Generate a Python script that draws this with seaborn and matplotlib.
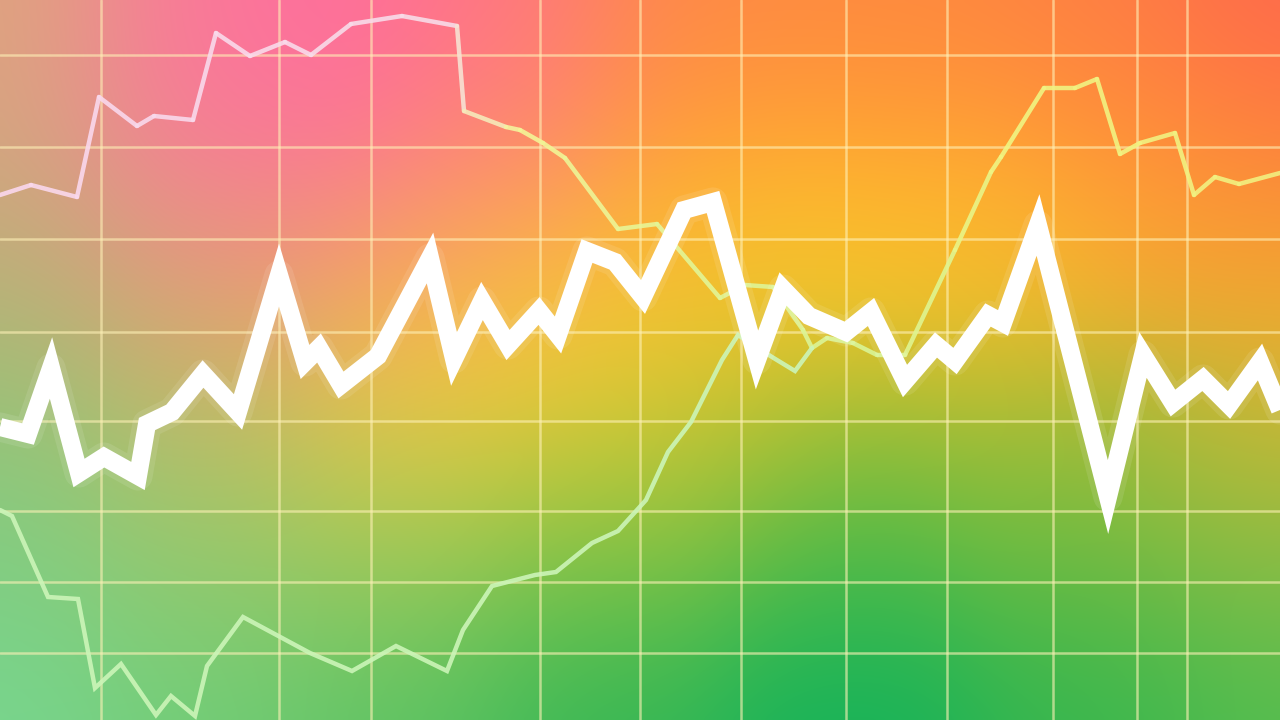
import numpy as np
import matplotlib
matplotlib.use("Agg")
import matplotlib.pyplot as plt
from matplotlib.collections import LineCollection
import seaborn as sns

sns.set_theme(style="white")

# thick white series (x position, value; value measured upward from the bottom)
main_x = [0, 28, 51, 79, 104, 138, 147, 172, 203, 238, 279, 305, 319, 341, 378, 430, 454, 482,
          508, 539, 558, 587, 615, 643, 684, 713, 757, 783, 809, 846, 871, 905, 936, 955, 988,
          1003, 1038, 1108, 1143, 1173, 1203, 1229, 1260, 1280]
main_y = [293, 286, 352, 247, 263, 244, 296, 308, 346, 308, 445, 358, 372, 335, 364, 462, 361, 419,
          375, 409, 385, 469, 458, 423, 510, 518, 360, 431, 404, 388, 408, 339, 375, 359, 405,
          397, 495, 223, 365, 317, 341, 315, 358, 310]

# upper thin series (pink on the left, yellow on the right)
upper_x = [0, 31, 77, 99, 137, 154, 193, 216, 250, 285, 311, 351, 402, 457, 464, 506, 520, 543,
           565, 618, 657, 720, 745, 773, 803, 812, 827, 853, 877, 905, 955, 991, 1001, 1044,
           1075, 1097, 1120, 1140, 1175, 1194, 1215, 1239, 1280]
upper_y = [525, 535, 523, 623, 594, 604, 600, 687, 664, 678, 665, 696, 704, 694, 609, 593, 590, 577,
           562, 491, 496, 422, 435, 433, 390, 372, 382, 377, 365, 365, 470, 548, 563, 632,
           632, 641, 566, 577, 587, 525, 543, 536, 547]

# lower thin series (pale green)
lower_x = [0, 12, 48, 78, 95, 121, 156, 171, 195, 207, 243, 310, 352, 396, 447, 463, 492, 535,
           556, 592, 618, 646, 668, 691, 722, 738, 772, 795, 812]
lower_y = [210, 204, 123, 121, 32, 56, 5, 24, 4, 54, 103, 67, 49, 74, 49, 90, 134, 145,
           148, 177, 189, 220, 268, 298, 360, 385, 363, 349, 372]

# grid positions
grid_x = [101, 279, 371, 540, 640, 741, 846, 947, 1053, 1137, 1187]
grid_y = [665, 573, 481, 388, 299, 209, 138, 67]

W, H = 1280, 720

# background colour samples: (x, y from top, rgb)
blobs = [
    (0, 0, (225, 165, 125)), (200, 0, (250, 125, 150)), (330, 0, (255, 105, 160)),
    (500, 0, (255, 118, 130)), (700, 0, (255, 135, 72)), (900, 0, (255, 135, 65)),
    (1100, 0, (255, 125, 70)), (1280, 0, (255, 98, 82)),
    (0, 100, (215, 165, 130)), (200, 100, (250, 118, 155)), (330, 90, (255, 108, 162)),
    (500, 100, (255, 125, 120)), (700, 100, (255, 145, 60)), (900, 100, (255, 142, 58)),
    (1100, 100, (255, 135, 60)), (1280, 100, (255, 118, 65)),
    (0, 220, (200, 170, 125)), (200, 220, (235, 145, 135)), (350, 220, (245, 138, 128)),
    (500, 220, (250, 160, 95)), (700, 220, (255, 190, 45)), (850, 220, (255, 202, 38)),
    (1000, 220, (255, 192, 45)), (1150, 220, (255, 165, 50)), (1280, 220, (250, 148, 52)),
    (0, 330, (172, 185, 115)), (200, 330, (215, 170, 110)), (400, 330, (247, 192, 70)),
    (550, 330, (254, 207, 45)), (750, 330, (238, 198, 45)), (1000, 330, (245, 190, 40)),
    (1280, 330, (240, 180, 45)),
    (0, 450, (140, 200, 125)), (200, 450, (180, 195, 100)), (400, 450, (218, 204, 70)),
    (600, 450, (200, 200, 55)), (800, 450, (150, 190, 55)), (1000, 450, (130, 190, 60)),
    (1150, 450, (165, 188, 58)), (1280, 450, (195, 185, 55)),
    (0, 570, (125, 207, 132)), (200, 570, (140, 202, 112)), (400, 570, (140, 200, 95)),
    (600, 570, (105, 193, 75)), (850, 570, (55, 185, 78)), (1100, 570, (88, 186, 70)),
    (1280, 570, (120, 190, 75)),
    (0, 720, (120, 215, 145)), (200, 720, (110, 205, 120)), (400, 720, (88, 195, 100)),
    (600, 720, (48, 182, 86)), (850, 720, (18, 178, 92)), (1100, 720, (50, 182, 80)),
    (1280, 720, (82, 190, 80)),
]

gx, gy = np.meshgrid(np.linspace(0, W, 320), np.linspace(0, H, 180))
num = np.zeros(gx.shape + (3,))
den = np.zeros(gx.shape)
for bx, by, c in blobs:
    w = np.exp(-((gx - bx) ** 2 + (gy - by) ** 2) / (2 * 95.0 ** 2))
    num += w[..., None] * np.array(c, dtype=float)
    den += w
bg = np.clip(num / den[..., None] / 255.0, 0, 1)

fig = plt.figure(figsize=(12.8, 7.2), dpi=100)
ax = fig.add_axes([0, 0, 1, 1])
ax.imshow(bg, extent=[0, W, 0, H], aspect="auto", interpolation="bicubic", zorder=0)

for gxp in grid_x:
    ax.axvline(gxp, color=(1.0, 0.95, 0.72), alpha=0.6, lw=1.8, zorder=1)
for gyp in grid_y:
    ax.axhline(gyp, color=(1.0, 0.95, 0.72), alpha=0.6, lw=1.8, zorder=1)

# upper line with colour shifting along x
pts = np.column_stack([upper_x, upper_y]).astype(float)
segs = np.stack([pts[:-1], pts[1:]], axis=1)
mid = (pts[:-1, 0] + pts[1:, 0]) / 2
cx = [0, 440, 520, 700, 900, 1000, 1280]
cr = [250, 248, 245, 225, 215, 240, 242]
cg = [215, 220, 245, 245, 245, 245, 240]
cb = [238, 232, 150, 150, 150, 130, 128]
cols = np.column_stack([np.interp(mid, cx, cr), np.interp(mid, cx, cg), np.interp(mid, cx, cb)]) / 255
lc = LineCollection(segs, colors=cols, linewidths=3.2, alpha=0.9, capstyle="round", zorder=2)
ax.add_collection(lc)

sns.lineplot(x=lower_x, y=lower_y, ax=ax, color=(0.8, 0.96, 0.72), lw=3.2, alpha=0.9,
             estimator=None, sort=False, zorder=2, solid_joinstyle="miter")

sns.lineplot(x=main_x, y=main_y, ax=ax, color="white", lw=21, alpha=0.1,
             estimator=None, sort=False, zorder=3)
sns.lineplot(x=main_x, y=main_y, ax=ax, color="white", lw=13, estimator=None, sort=False,
             zorder=4, solid_joinstyle="miter", solid_capstyle="butt")

ax.set_xlim(0, W)
ax.set_ylim(0, H)
ax.axis("off")

fig.savefig("out.png", dpi=100)
